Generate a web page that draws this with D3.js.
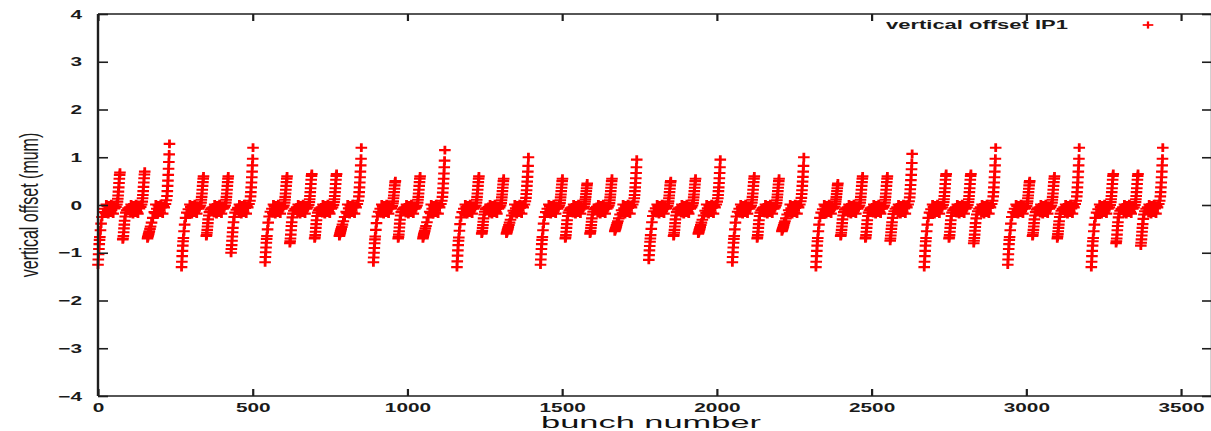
<!DOCTYPE html>
<html>
<head>
<meta charset="utf-8">
<script src="https://cdn.jsdelivr.net/npm/d3@7"></script>
<style>
  html, body { margin: 0; padding: 0; background: #fff; }
  svg { display: block; }
  text { font-family: "Liberation Sans", Arial, Helvetica, sans-serif; fill: #1a1a1a; }
</style>
</head>
<body>
<div id="chart"></div>
<script>
// axis ticks
const xTicks = [0, 500, 1000, 1500, 2000, 2500, 3000, 3500];
const yTicks = [-4, -3, -2, -1, 0, 1, 2, 3, 4];

// first slot of every batch (trains of 3,3,4 ... 3,3,3 batches)
const batchStart = [
  0, 80, 160,
  270, 350, 430,
  540, 620, 700, 780,
  890, 970, 1050,
  1160, 1240, 1320,
  1430, 1510, 1590, 1670,
  1780, 1860, 1940,
  2050, 2130, 2210,
  2320, 2400, 2480, 2560,
  2670, 2750, 2830,
  2940, 3020, 3100,
  3210, 3290, 3370
];

// bunches inside a batch with their own reading per batch (head, middle, tail)
const slotInBatch = [0, 1, 2, 3, 4, 5, 6, 8, 10, 13, 17, 22, 30, 38, 46, 54, 58, 61, 63, 64, 65, 66, 67, 68, 69, 70, 71];

// flat part of the batches, which looks the same everywhere
const flatSlots = [25, 27, 33, 35, 41, 43, 49, 51];
const flatValues = [-0.17, 0.01, -0.19, -0.01, -0.16, 0.02, -0.18, -0.02];

// vertical offset (mum) per batch, one value per slotInBatch entry
const offsetRows = [
  [-1.25,-1.14,-1.03,-0.92,-0.82,-0.73,-0.67,-0.53,-0.39,-0.25,-0.15,-0.08, -0.02,-0.14,-0.05, -0.07,-0.04,0.01,0.07,0.13,0.20,0.28,0.37,0.46,0.55,0.63,0.68],
  [-0.72,-0.70,-0.65,-0.57,-0.49,-0.41,-0.33,-0.24,-0.16,-0.11,-0.07,-0.05, -0.03,-0.13,-0.15, -0.07,-0.04,0.01,0.07,0.14,0.21,0.29,0.38,0.47,0.56,0.64,0.70],
  [-0.70,-0.67,-0.65,-0.62,-0.60,-0.57,-0.55,-0.50,-0.45,-0.37,-0.27,-0.15, -0.08,-0.04,-0.02, -0.05,0.02,0.10,0.19,0.29,0.40,0.51,0.63,0.76,0.90,1.06,1.28],
  [-1.30,-1.19,-1.07,-0.96,-0.85,-0.76,-0.69,-0.55,-0.41,-0.27,-0.16,-0.09, -0.04,-0.14,-0.03, -0.08,-0.05,-0.01,0.05,0.11,0.17,0.24,0.32,0.40,0.48,0.55,0.60],
  [-0.65,-0.63,-0.58,-0.52,-0.45,-0.38,-0.30,-0.22,-0.15,-0.10,-0.07,-0.05, -0.02,-0.13,-0.08, -0.08,-0.05,-0.01,0.05,0.11,0.17,0.24,0.32,0.40,0.48,0.55,0.60],
  [-1.00,-0.92,-0.84,-0.75,-0.66,-0.57,-0.48,-0.36,-0.25,-0.16,-0.10,-0.06, -0.03,-0.13,-0.06, -0.05,0.02,0.09,0.18,0.27,0.37,0.47,0.58,0.70,0.83,0.97,1.20],
  [-1.20,-1.09,-0.99,-0.89,-0.79,-0.71,-0.65,-0.51,-0.37,-0.24,-0.14,-0.08, -0.02,-0.14,-0.07, -0.08,-0.05,-0.01,0.05,0.11,0.17,0.24,0.32,0.40,0.48,0.55,0.60],
  [-0.80,-0.76,-0.70,-0.62,-0.53,-0.44,-0.36,-0.26,-0.18,-0.12,-0.08,-0.05, -0.04,-0.15,-0.03, -0.08,-0.05,0.00,0.06,0.12,0.19,0.27,0.35,0.44,0.53,0.61,0.65],
  [-0.70,-0.68,-0.63,-0.56,-0.48,-0.40,-0.32,-0.23,-0.16,-0.11,-0.07,-0.05, -0.03,-0.12,-0.15, -0.08,-0.05,0.00,0.06,0.12,0.19,0.27,0.35,0.44,0.53,0.61,0.65],
  [-0.65,-0.63,-0.60,-0.58,-0.55,-0.53,-0.50,-0.46,-0.41,-0.34,-0.25,-0.14, -0.07,-0.03,-0.02, -0.05,0.02,0.09,0.18,0.27,0.37,0.47,0.58,0.70,0.83,0.97,1.20],
  [-1.20,-1.10,-1.00,-0.90,-0.80,-0.72,-0.66,-0.52,-0.38,-0.24,-0.14,-0.08, -0.03,-0.14,-0.06, -0.08,-0.06,-0.02,0.03,0.08,0.14,0.20,0.27,0.34,0.41,0.47,0.50],
  [-0.70,-0.67,-0.62,-0.55,-0.47,-0.39,-0.31,-0.22,-0.15,-0.10,-0.07,-0.05, -0.02,-0.13,-0.08, -0.08,-0.05,-0.01,0.05,0.11,0.17,0.24,0.32,0.40,0.48,0.55,0.60],
  [-0.70,-0.67,-0.64,-0.61,-0.59,-0.56,-0.54,-0.49,-0.44,-0.36,-0.26,-0.14, -0.08,-0.04,-0.03, -0.05,0.02,0.09,0.17,0.26,0.35,0.45,0.55,0.66,0.79,0.93,1.15],
  [-1.30,-1.18,-1.06,-0.95,-0.84,-0.75,-0.68,-0.54,-0.40,-0.26,-0.15,-0.08, -0.04,-0.14,-0.07, -0.08,-0.05,-0.01,0.05,0.11,0.17,0.24,0.32,0.40,0.48,0.55,0.60],
  [-0.60,-0.58,-0.54,-0.48,-0.42,-0.35,-0.28,-0.20,-0.14,-0.09,-0.06,-0.04, -0.03,-0.12,-0.14, -0.08,-0.05,-0.01,0.04,0.10,0.16,0.22,0.29,0.36,0.43,0.50,0.55],
  [-0.60,-0.58,-0.56,-0.53,-0.51,-0.49,-0.46,-0.42,-0.37,-0.31,-0.22,-0.12, -0.07,-0.04,-0.03, -0.05,0.01,0.08,0.15,0.23,0.31,0.40,0.49,0.59,0.70,0.82,1.00],
  [-1.25,-1.14,-1.03,-0.92,-0.82,-0.73,-0.67,-0.53,-0.39,-0.25,-0.15,-0.08, -0.03,-0.15,-0.06, -0.08,-0.05,-0.01,0.04,0.10,0.16,0.22,0.29,0.36,0.43,0.50,0.55],
  [-0.70,-0.68,-0.63,-0.56,-0.48,-0.40,-0.32,-0.23,-0.16,-0.11,-0.07,-0.05, -0.02,-0.13,-0.08, -0.08,-0.06,-0.03,0.02,0.07,0.12,0.17,0.23,0.29,0.35,0.41,0.45],
  [-0.60,-0.58,-0.54,-0.48,-0.42,-0.35,-0.28,-0.20,-0.14,-0.09,-0.06,-0.04, -0.04,-0.14,-0.07, -0.08,-0.05,-0.01,0.04,0.10,0.16,0.22,0.29,0.36,0.43,0.50,0.55],
  [-0.55,-0.53,-0.51,-0.49,-0.47,-0.45,-0.42,-0.38,-0.34,-0.28,-0.20,-0.11, -0.07,-0.04,-0.03, -0.05,0.01,0.07,0.14,0.21,0.29,0.37,0.46,0.56,0.67,0.79,0.95],
  [-1.15,-1.05,-0.95,-0.86,-0.77,-0.70,-0.63,-0.50,-0.36,-0.23,-0.13,-0.07, -0.02,-0.14,-0.07, -0.08,-0.06,-0.02,0.03,0.08,0.14,0.20,0.27,0.34,0.41,0.47,0.50],
  [-0.65,-0.63,-0.58,-0.52,-0.45,-0.38,-0.30,-0.22,-0.15,-0.10,-0.07,-0.05, -0.03,-0.13,-0.14, -0.08,-0.05,-0.01,0.04,0.10,0.16,0.22,0.29,0.36,0.43,0.50,0.55],
  [-0.60,-0.58,-0.56,-0.53,-0.51,-0.49,-0.46,-0.42,-0.37,-0.31,-0.22,-0.12, -0.07,-0.04,-0.03, -0.05,0.01,0.07,0.14,0.21,0.29,0.37,0.46,0.56,0.67,0.79,0.95],
  [-1.20,-1.09,-0.99,-0.89,-0.79,-0.71,-0.65,-0.51,-0.37,-0.24,-0.14,-0.08, -0.04,-0.15,-0.06, -0.08,-0.05,-0.01,0.05,0.11,0.17,0.24,0.32,0.40,0.48,0.55,0.60],
  [-0.70,-0.68,-0.63,-0.56,-0.48,-0.40,-0.32,-0.23,-0.16,-0.11,-0.07,-0.05, -0.02,-0.13,-0.08, -0.08,-0.05,-0.01,0.04,0.10,0.16,0.22,0.29,0.36,0.43,0.50,0.55],
  [-0.55,-0.53,-0.51,-0.49,-0.47,-0.45,-0.42,-0.38,-0.34,-0.28,-0.20,-0.11, -0.07,-0.04,-0.03, -0.05,0.01,0.08,0.15,0.23,0.31,0.40,0.49,0.59,0.70,0.82,1.00],
  [-1.30,-1.19,-1.07,-0.96,-0.85,-0.76,-0.69,-0.55,-0.41,-0.27,-0.16,-0.09, -0.03,-0.14,-0.07, -0.08,-0.06,-0.03,0.02,0.07,0.12,0.17,0.23,0.29,0.35,0.41,0.45],
  [-0.65,-0.63,-0.58,-0.52,-0.45,-0.38,-0.30,-0.22,-0.15,-0.10,-0.07,-0.05, -0.04,-0.15,-0.06, -0.08,-0.05,-0.01,0.05,0.11,0.17,0.24,0.32,0.40,0.48,0.55,0.60],
  [-0.70,-0.68,-0.63,-0.56,-0.48,-0.40,-0.32,-0.23,-0.16,-0.11,-0.07,-0.05, -0.02,-0.12,-0.15, -0.08,-0.05,-0.01,0.05,0.11,0.17,0.24,0.32,0.40,0.48,0.55,0.60],
  [-0.75,-0.70,-0.64,-0.57,-0.50,-0.43,-0.36,-0.27,-0.19,-0.13,-0.08,-0.05, -0.03,-0.13,-0.07, -0.05,0.01,0.08,0.16,0.24,0.33,0.42,0.52,0.63,0.75,0.88,1.07],
  [-1.30,-1.19,-1.07,-0.96,-0.85,-0.76,-0.69,-0.55,-0.41,-0.27,-0.16,-0.09, -0.04,-0.14,-0.06, -0.08,-0.05,0.00,0.06,0.12,0.19,0.27,0.35,0.44,0.53,0.61,0.65],
  [-0.70,-0.68,-0.63,-0.56,-0.48,-0.40,-0.32,-0.23,-0.16,-0.11,-0.07,-0.05, -0.02,-0.13,-0.08, -0.08,-0.05,0.00,0.06,0.12,0.19,0.27,0.35,0.44,0.53,0.61,0.65],
  [-0.80,-0.75,-0.69,-0.62,-0.54,-0.46,-0.38,-0.28,-0.20,-0.13,-0.08,-0.05, -0.03,-0.14,-0.06, -0.05,0.02,0.09,0.18,0.27,0.37,0.47,0.58,0.70,0.83,0.97,1.20],
  [-1.25,-1.14,-1.03,-0.92,-0.82,-0.73,-0.67,-0.53,-0.39,-0.25,-0.15,-0.08, -0.02,-0.14,-0.07, -0.08,-0.06,-0.02,0.03,0.08,0.14,0.20,0.27,0.34,0.41,0.47,0.50],
  [-0.65,-0.63,-0.58,-0.52,-0.45,-0.38,-0.30,-0.22,-0.15,-0.10,-0.07,-0.05, -0.04,-0.15,-0.06, -0.08,-0.05,-0.01,0.05,0.11,0.17,0.24,0.32,0.40,0.48,0.55,0.60],
  [-0.70,-0.66,-0.61,-0.55,-0.48,-0.41,-0.34,-0.25,-0.18,-0.12,-0.08,-0.05, -0.03,-0.13,-0.07, -0.05,0.02,0.09,0.18,0.27,0.37,0.47,0.58,0.70,0.83,0.97,1.20],
  [-1.30,-1.19,-1.07,-0.96,-0.85,-0.76,-0.69,-0.55,-0.41,-0.27,-0.16,-0.09, -0.04,-0.14,-0.06, -0.08,-0.05,0.00,0.06,0.12,0.19,0.27,0.35,0.44,0.53,0.61,0.65],
  [-0.80,-0.76,-0.70,-0.62,-0.53,-0.44,-0.36,-0.26,-0.18,-0.12,-0.08,-0.05, -0.02,-0.12,-0.15, -0.08,-0.05,0.00,0.06,0.12,0.19,0.27,0.35,0.44,0.53,0.61,0.65],
  [-0.85,-0.79,-0.72,-0.64,-0.56,-0.48,-0.40,-0.29,-0.20,-0.13,-0.08,-0.05, -0.03,-0.14,-0.07, -0.05,0.02,0.09,0.18,0.27,0.37,0.47,0.58,0.70,0.83,0.97,1.20]
];

const width = 1211, height = 431;
const plot = { left: 98, right: 1212, top: 14, bottom: 396 };
const stretch = 1.6;   // the picture is stretched sideways
const red = "#ff0000", ink = "#1e1e1e";

const svg = d3.select("#chart").append("svg")
  .attr("width", width)
  .attr("height", height);

const x = d3.scaleLinear().domain([0, 3600]).range([plot.left, plot.right]);
const y = d3.scaleLinear().domain([-4, 4]).range([plot.bottom, plot.top]);

// points
const points = [];
batchStart.forEach((s, i) => {
  slotInBatch.forEach((k, j) => points.push({ bunch: s + k, value: offsetRows[i][j] }));
  flatSlots.forEach((k, j) => points.push({ bunch: s + k, value: flatValues[j] }));
});

// plus markers, wider than tall
const hw = 5.8, hh = 4.4;
function plusH(px, py, w) { return `M${px - w},${py}H${px + w}`; }
function plusV(px, py, h) { return `M${px},${py - h}V${py + h}`; }

const marks = svg.append("g").attr("class", "points");
marks.append("path")
  .attr("d", points.map(d => plusH(x(d.bunch), y(d.value), hw)).join(""))
  .attr("fill", "none")
  .attr("stroke", red)
  .attr("stroke-width", 2.1);
marks.append("path")
  .attr("d", points.map(d => plusV(x(d.bunch), y(d.value), hh)).join(""))
  .attr("fill", "none")
  .attr("stroke", red)
  .attr("stroke-width", 2.8);

// axes (ticks inward, mirrored)
const xAxis = svg.append("g")
  .attr("transform", `translate(0,${plot.bottom})`)
  .call(d3.axisBottom(x).tickValues(xTicks).tickSize(-7).tickPadding(7).tickFormat(d3.format("d")));
xAxis.selectAll("text")
  .attr("transform", `scale(${stretch},1)`)
  .style("font-size", "13px")
  .style("font-weight", "bold");

const yAxis = svg.append("g")
  .attr("transform", `translate(${plot.left},0)`)
  .call(d3.axisLeft(y).tickValues(yTicks).tickSize(-10).tickPadding(16).tickFormat(d3.format("d")));
yAxis.selectAll("text")
  .attr("x", -16 / stretch)
  .attr("transform", `scale(${stretch},1)`)
  .style("font-size", "13px")
  .style("font-weight", "bold");

svg.append("g")
  .attr("transform", `translate(0,${plot.top})`)
  .call(d3.axisTop(x).tickValues(xTicks).tickSize(-7).tickFormat(""));
svg.append("g")
  .attr("transform", `translate(${plot.right},0)`)
  .call(d3.axisRight(y).tickValues(yTicks).tickSize(-10).tickFormat(""));

svg.selectAll(".domain").remove();
svg.selectAll(".tick line").attr("stroke", ink);
svg.selectAll(".tick line").filter(function() { return +d3.select(this).attr("y2") !== 0; }).attr("stroke-width", 2.2);
svg.selectAll(".tick line").filter(function() { return +d3.select(this).attr("x2") !== 0; }).attr("stroke-width", 1.6);
svg.selectAll(".tick text").attr("fill", ink);

// frame
const frame = svg.append("g").attr("stroke", ink).attr("fill", "none");
frame.append("line").attr("x1", plot.left).attr("x2", plot.left).attr("y1", plot.top).attr("y2", plot.bottom).attr("stroke-width", 2.4);
frame.append("line").attr("x1", plot.right).attr("x2", plot.right).attr("y1", plot.top).attr("y2", plot.bottom).attr("stroke-width", 2.4);
frame.append("line").attr("x1", plot.left).attr("x2", plot.right).attr("y1", plot.top).attr("y2", plot.top).attr("stroke-width", 1.6);
frame.append("line").attr("x1", plot.left).attr("x2", plot.right).attr("y1", plot.bottom).attr("y2", plot.bottom).attr("stroke-width", 1.6);

// axis titles
svg.append("text")
  .attr("transform", `translate(29,205) scale(${stretch},1) rotate(-90)`)
  .attr("text-anchor", "middle")
  .attr("dy", "0.35em")
  .style("font-size", "16px")
  .text("vertical offset (mum)");

const xTitle = svg.append("text")
  .attr("text-anchor", "middle")
  .style("font-size", "16px")
  .style("fill", "#111")
  .text("bunch number");
const xTitleW = xTitle.node().getComputedTextLength();
xTitle.attr("transform", `translate(651,427.5) scale(${220 / xTitleW},1)`);

// key
const keyText = svg.append("text")
  .style("font-size", "13px")
  .style("font-weight", "bold")
  .text("vertical offset IP1");
const keyW = keyText.node().getComputedTextLength();
keyText.attr("transform", `translate(886,29) scale(${182 / keyW},1)`);
svg.append("path")
  .attr("d", plusH(1148, 25, 5.3)).attr("stroke", red).attr("stroke-width", 1.7);
svg.append("path")
  .attr("d", plusV(1148, 25, 3.6)).attr("stroke", red).attr("stroke-width", 2.3);
</script>
</body>
</html>
